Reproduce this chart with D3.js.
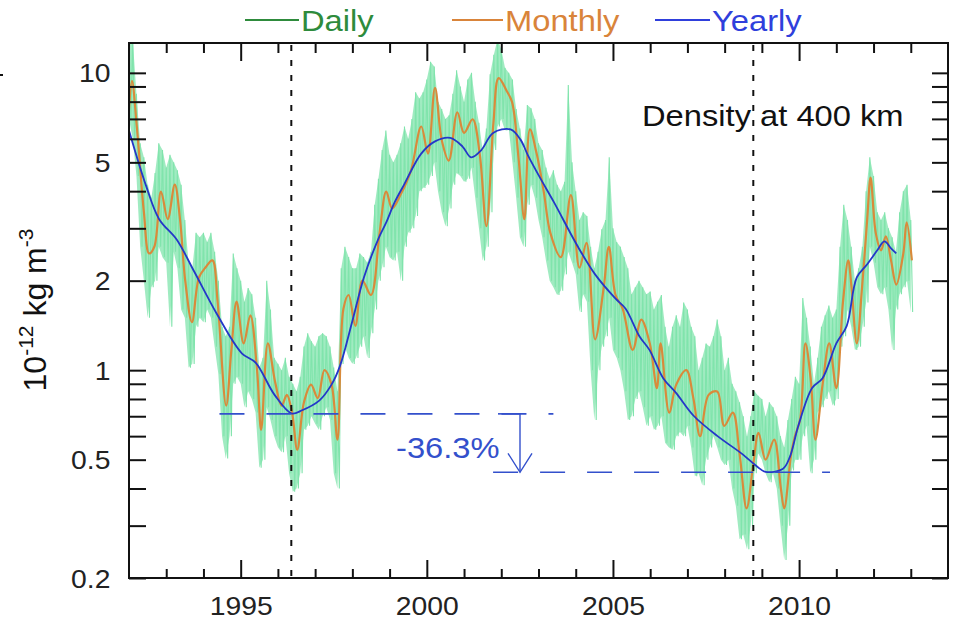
<!DOCTYPE html>
<html><head><meta charset="utf-8">
<script src="https://cdn.jsdelivr.net/npm/d3@7"></script>
<style>
body{margin:0;background:#fff}
svg{display:block}
text{font-family:"Liberation Sans",Arial,Helvetica,sans-serif}
</style>
</head><body>
<svg id="chart" width="956" height="621"></svg>
<script>
// ---------------- DATA ----------------
const dailyStart = 1992.0, dailyStep = 0.1;
const dailyHigh = [
 13,13,8.5,5.8,5.2,4.2,3.8,4.6,5.8,5.5,
 4.8,5.3,5.0,4.7,4.2,3.2,2.3,2.2,2.9,2.8,
 2.9,2.7,2.9,2.5,2.0,1.4,1.3,1.4,2.47,2.2,
 2.0,1.7,1.89,1.8,1.5,1.02,1.1,2.0,1.6,1.1,
 1.05,1.0,1.1,0.95,0.9,0.85,0.95,1.2,1.33,1.25,
 1.2,1.3,1.33,1.3,1.2,1.02,0.85,2.2,2.6,2.4,
 2.2,2.2,2.47,2.4,2.3,2.5,3.6,4.4,5.5,6.4,
 5.3,5.0,5.3,5.8,6.6,6.0,7.0,8.6,8.2,8.6,
 9.5,10.9,10.5,8.0,7.55,7.0,7.2,8.5,10.2,9.0,
 8.0,9.5,10.0,8.0,6.8,5.5,6.5,9.9,11.5,13,
 12.0,10.4,10.0,9.5,7.55,6.5,5.5,7.8,7.6,7.0,
 5.8,5.5,4.8,4.4,4.7,4.2,4.0,4.3,9.1,5.0,
 4.0,3.2,3.4,3.3,2.6,2.2,2.5,2.98,3.2,5.2,
 3.0,2.7,2.6,2.4,2.2,1.8,1.9,2.0,1.9,1.8,
 1.84,1.6,1.7,1.79,1.4,1.2,1.4,1.53,1.4,1.69,
 1.6,1.4,1.3,1.0,1.1,1.23,1.2,1.3,1.48,1.3,
 1.0,1.1,0.9,0.85,0.78,0.7,0.6,0.7,0.85,0.82,
 0.8,0.7,0.78,0.75,0.7,0.6,0.55,0.68,0.8,0.95,
 0.9,1.75,1.5,1.2,0.9,1.1,1.4,1.53,1.65,1.5,
 1.6,2.6,3.6,3.2,2.6,2.0,2.2,2.6,4.0,5.2,
 4.5,3.4,3.2,3.4,3.0,2.8,2.5,3.4,4.0,4.2,
 3.2];
const dailyLow = [
 7,6,4.5,2.6,2.0,1.5,1.9,2.0,2.6,2.4,
 2.3,1.4,2.5,2.2,1.6,1.5,1.02,1.05,1.4,1.5,
 1.45,1.6,1.5,1.2,0.97,0.6,0.505,0.6,0.9,0.95,
 0.9,0.75,0.85,0.8,0.72,0.47,0.5,0.75,0.68,0.6,
 0.55,0.53,0.6,0.45,0.39,0.4,0.45,0.63,0.65,0.7,
 0.66,0.63,0.7,0.75,0.68,0.45,0.40,1.05,1.2,1.1,
 1.05,1.1,1.2,1.3,1.1,1.33,1.6,2.0,2.22,2.6,
 2.4,2.34,2.5,2.0,2.6,2.9,3.0,3.3,4.0,4.1,
 4.2,4.5,5.0,4.0,3.4,3.05,3.5,4.2,4.6,4.5,
 4.3,4.4,4.8,3.8,3.0,2.34,2.6,3.4,5.5,6.6,
 7.0,6.4,6.5,5.0,3.8,2.8,2.6,3.6,4.2,3.8,
 3.2,2.8,2.34,2.0,1.9,1.79,1.85,2.1,2.5,2.3,
 2.1,1.57,1.8,1.7,1.0,0.68,1.0,1.2,1.3,1.5,
 1.17,1.1,1.0,0.85,0.68,0.7,0.8,0.85,0.75,0.65,
 0.7,0.63,0.65,0.7,0.57,0.55,0.54,0.6,0.62,0.6,
 0.65,0.55,0.44,0.45,0.41,0.5,0.55,0.6,0.55,0.5,
 0.48,0.5,0.4,0.35,0.27,0.28,0.25,0.3,0.45,0.525,
 0.5,0.45,0.42,0.45,0.40,0.3,0.23,0.3,0.46,0.5,
 0.5,0.6,0.65,0.45,0.5,0.72,0.75,0.8,0.85,0.76,
 0.8,1.2,1.3,1.6,1.4,1.17,1.2,1.4,1.69,2.6,
 2.3,1.9,1.8,1.9,1.6,1.17,1.6,1.8,1.9,2.0,
 1.57];

const monthlyYears = [1992.00,1992.08,1992.21,1992.40,1992.54,1992.68,1992.86,1993.04,1993.23,1993.37,1993.51,1993.69,1993.88,1994.06,1994.24,1994.38,1994.61,1994.75,1994.89,1995.08,1995.26,1995.44,1995.55,1995.73,1995.92,1996.10,1996.24,1996.38,1996.52,1996.70,1996.89,1997.07,1997.25,1997.44,1997.60,1997.76,1997.90,1998.08,1998.27,1998.50,1998.73,1998.91,1999.07,1999.29,1999.57,1999.85,2000.03,2000.22,2000.40,2000.59,2000.82,2001.00,2001.23,2001.42,2001.60,2001.79,2001.93,2002.15,2002.29,2002.47,2002.62,2002.77,2002.95,2003.14,2003.32,2003.60,2003.87,2004.10,2004.29,2004.52,2004.75,2004.89,2005.07,2005.26,2005.53,2005.76,2005.99,2006.18,2006.28,2006.51,2006.70,2006.97,2007.16,2007.34,2007.57,2007.80,2007.99,2008.22,2008.40,2008.59,2008.77,2008.91,2009.10,2009.33,2009.51,2009.60,2009.79,2009.89,2010.03,2010.17,2010.31,2010.44,2010.63,2010.81,2011.00,2011.18,2011.32,2011.41,2011.55,2011.69,2011.83,2011.92,2012.06,2012.20,2012.33,2012.47,2012.61,2012.80,2012.89,2013.03];
const monthlyValues = [7.5,9.4,6.6,3.4,2.47,2.6,3.99,3.22,4.21,3.22,2.0,1.45,2.05,2.22,2.34,1.7,0.76,1.17,1.7,1.23,1.53,1.0,0.63,1.23,0.92,0.76,0.826,0.72,0.54,0.78,0.894,0.805,1.0,0.894,0.584,1.61,1.79,1.41,2.0,1.79,2.89,3.99,3.5,3.88,4.67,6.6,5.35,8.9,5.95,5.07,7.37,6.28,6.98,5.35,3.05,6.8,9.6,8.67,7.97,5.07,3.22,6.45,5.35,3.99,2.89,2.4,3.88,2.21,2.68,1.27,1.89,2.6,1.79,1.61,1.17,1.48,1.23,0.87,1.23,0.72,0.894,1.0,0.805,0.6,0.826,0.848,0.65,0.72,0.525,0.343,0.484,0.616,0.5,0.584,0.40,0.343,0.525,0.6,0.685,1.23,0.94,0.584,0.894,1.23,0.87,1.70,2.34,1.89,1.23,1.89,3.22,4.44,2.89,2.53,2.82,2.34,1.94,2.47,3.14,2.34];

const yearlyYears = [1992.00,1992.45,1992.81,1993.28,1993.74,1994.38,1995.03,1995.40,1995.91,1996.37,1996.65,1997.11,1997.44,1997.67,1997.99,1998.31,1998.69,1998.91,1999.14,1999.39,1999.85,2000.22,2000.63,2000.96,2001.19,2001.46,2001.78,2002.25,2002.52,2002.71,2003.04,2003.41,2004.06,2004.52,2005.07,2005.34,2005.71,2005.98,2006.35,2006.70,2007.16,2007.81,2008.45,2008.91,2009.10,2009.56,2009.75,2009.98,2010.35,2010.63,2011.00,2011.28,2011.55,2011.83,2012.10,2012.29,2012.47,2012.61];
const yearlyValues = [6.4,4.2,3.22,2.75,2.16,1.53,1.14,1.06,0.826,0.715,0.733,0.79,0.894,1.036,1.446,2.05,2.75,3.14,3.68,4.21,5.35,5.88,6.04,5.65,5.2,5.49,6.28,6.45,5.95,5.3,4.44,3.68,2.6,2.1,1.74,1.61,1.30,1.17,0.94,0.837,0.704,0.60,0.525,0.47,0.455,0.465,0.51,0.65,0.871,0.94,1.23,1.41,2.05,2.27,2.53,2.71,2.57,2.47];

const minimaYears = [1996.36, 2008.77];       // dotted vertical lines
const minimaLevels = [0.713, 0.4535];        // dashed horizontal lines
const minimaSpan = [[1994.43, 2003.40], [2001.78, 2010.83]];
const changeLabel = "-36.3%";

const xMajorTicks = [1995, 2000, 2005, 2010];
const xMinorTicks = [1993,1994,1996,1997,1998,1999,2001,2002,2003,2004,2006,2007,2008,2009,2011,2012,2013];
const yTicks = [0.2,0.3,0.4,0.5,0.6,0.7,0.8,0.9,1,2,3,4,5,6,7,8,9,10];
const yLabelTicks = [0.2,0.5,1,2,5,10];

const legendItems = ["Daily","Monthly","Yearly"];

// ---------------- STYLE ----------------
const C = {daily:"#80e4ac", monthly:"#d98a3b", yearly:"#2437c9",
           dailyLeg:"#2e8b3c", monthlyLeg:"#d9843a", yearlyLeg:"#2f3fdc", annot:"#3350cc"};
const L = 129, R = 948, T = 43, B = 578;
const SX = 1.09;

const svg = d3.select("#chart");
const x = d3.scaleLinear().domain([1992, 2014]).range([L, R]);
const y = d3.scaleLog().domain([0.2, 12.6]).range([B, T]);

svg.append("defs").append("clipPath").attr("id","clip")
  .append("rect").attr("x",L).attr("y",T).attr("width",R-L).attr("height",B-T);

const plot = svg.append("g").attr("clip-path","url(#clip)");

// daily: light band + zigzag spikes
const dailyPts = [];
dailyHigh.forEach((h,i)=>{
  const t = dailyStart + i*dailyStep;
  dailyPts.push([t, h]);
  dailyPts.push([t + dailyStep/2, dailyLow[i]]);
});
const band = d3.area()
  .x((d,i)=>x(dailyStart + i*dailyStep))
  .y0((d,i)=>y(dailyLow[i]))
  .y1(d=>y(d));
plot.append("path").attr("d", band(dailyHigh))
  .attr("fill",C.daily).attr("fill-opacity",0.75).attr("stroke","none");
const line = d3.line().x(d=>x(d[0])).y(d=>y(d[1]));
plot.append("path").attr("d", line(dailyPts))
  .attr("fill","none").attr("stroke",C.daily).attr("stroke-width",1.1);

const smooth = d3.line().x(d=>x(d[0])).y(d=>y(d[1])).curve(d3.curveCatmullRom.alpha(0.5));
plot.append("path").attr("d", smooth(monthlyYears.map((t,i)=>[t, monthlyValues[i]])))
  .attr("fill","none").attr("stroke",C.monthly).attr("stroke-width",2.2);
plot.append("path").attr("d", smooth(yearlyYears.map((t,i)=>[t, yearlyValues[i]])))
  .attr("fill","none").attr("stroke",C.yearly).attr("stroke-width",1.8);

// dotted verticals
minimaYears.forEach(t=>{
  svg.append("line").attr("x1",x(t)).attr("x2",x(t)).attr("y1",T+2).attr("y2",B)
    .attr("stroke","#111").attr("stroke-width",2).attr("stroke-dasharray","6,9");
});
// dashed horizontals
minimaLevels.forEach((v,i)=>{
  svg.append("line").attr("x1",x(minimaSpan[i][0])).attr("x2",x(minimaSpan[i][1]))
    .attr("y1",y(v)).attr("y2",y(v))
    .attr("stroke",C.annot).attr("stroke-width",1.6).attr("stroke-dasharray","25,22");
});
// arrow
const ax = 520;
svg.append("line").attr("x1",498).attr("x2",ax).attr("y1",y(minimaLevels[0])).attr("y2",y(minimaLevels[0]))
  .attr("stroke",C.annot).attr("stroke-width",1.6);
svg.append("line").attr("x1",ax).attr("x2",ax).attr("y1",y(minimaLevels[0])).attr("y2",y(minimaLevels[1]))
  .attr("stroke",C.annot).attr("stroke-width",1.4);
svg.append("path").attr("d",`M${ax-12},${y(minimaLevels[1])-19}L${ax},${y(minimaLevels[1])}L${ax+12},${y(minimaLevels[1])-19}`)
  .attr("fill","none").attr("stroke",C.annot).attr("stroke-width",1.4);

function txt(g, px, py, s, size, color, anchor){
  return g.append("text").attr("transform",`translate(${px},${py}) scale(${SX},1)`)
    .attr("font-size",size).attr("fill",color).attr("text-anchor",anchor||"start").text(s);
}
txt(svg, 396, 458, changeLabel, 30, C.annot);
txt(svg, 642, 126, "Density at 400 km", 30, "#111");

// axes
function styleAxis(g){ g.select(".domain").remove(); g.selectAll(".tick line").attr("stroke","#111").attr("stroke-width",2); }
const gl = svg.append("g").attr("transform",`translate(${L},0)`)
  .call(d3.axisLeft(y).tickValues(yTicks).tickSize(-17).tickPadding(17)
    .tickFormat(d=> yLabelTicks.includes(d) ? String(d) : ""));
styleAxis(gl);
gl.selectAll(".tick text").attr("font-size",26).attr("fill","#222")
  .attr("font-family","'Liberation Sans',Arial,sans-serif")
  .attr("dy",null).attr("dominant-baseline","central")
  .attr("transform",`scale(${SX},1)`);
const gr = svg.append("g").attr("transform",`translate(${R},0)`)
  .call(d3.axisRight(y).tickValues(yTicks).tickSize(-16).tickFormat(""));
styleAxis(gr);
const gb = svg.append("g").attr("transform",`translate(0,${B})`)
  .call(d3.axisBottom(x).tickValues(xMajorTicks).tickSize(-18).tickPadding(19).tickFormat(d3.format("d")));
styleAxis(gb);
gb.selectAll(".tick text").attr("font-size",26).attr("fill","#222")
  .attr("font-family","'Liberation Sans',Arial,sans-serif")
  .attr("transform",`scale(${SX},1)`);
const gbm = svg.append("g").attr("transform",`translate(0,${B})`)
  .call(d3.axisBottom(x).tickValues(xMinorTicks).tickSize(-9).tickFormat(""));
styleAxis(gbm);
const gt = svg.append("g").attr("transform",`translate(0,${T})`)
  .call(d3.axisTop(x).tickValues(xMajorTicks).tickSize(-18).tickFormat(""));
styleAxis(gt);
const gtm = svg.append("g").attr("transform",`translate(0,${T})`)
  .call(d3.axisTop(x).tickValues(xMinorTicks).tickSize(-10).tickFormat(""));
styleAxis(gtm);

svg.append("rect").attr("x",L).attr("y",T).attr("width",R-L).attr("height",B-T)
  .attr("fill","none").attr("stroke","#111").attr("stroke-width",2);

// y title
const yt = svg.append("text").attr("transform","translate(46,310) rotate(-90)")
  .attr("text-anchor","middle").attr("font-size",32).attr("fill","#111");
yt.append("tspan").text("10");
yt.append("tspan").attr("font-size",21).attr("dy",-13).text("-12");
yt.append("tspan").attr("dy",13).text(" kg m");
yt.append("tspan").attr("font-size",21).attr("dy",-13).text("-3");

// legend
const legX = [[245,299,301],[452,503,505],[655,710,712]];
const legC = [C.dailyLeg, C.monthlyLeg, C.yearlyLeg];
legendItems.forEach((s,i)=>{
  svg.append("line").attr("x1",legX[i][0]).attr("x2",legX[i][1]).attr("y1",20).attr("y2",20)
    .attr("stroke",legC[i]).attr("stroke-width",2);
  txt(svg, legX[i][2], 31, s, 30, legC[i]);
});
// small stub at left edge
svg.append("line").attr("x1",0).attr("x2",3).attr("y1",75).attr("y2",75).attr("stroke","#111").attr("stroke-width",2);
</script>
</body></html>
